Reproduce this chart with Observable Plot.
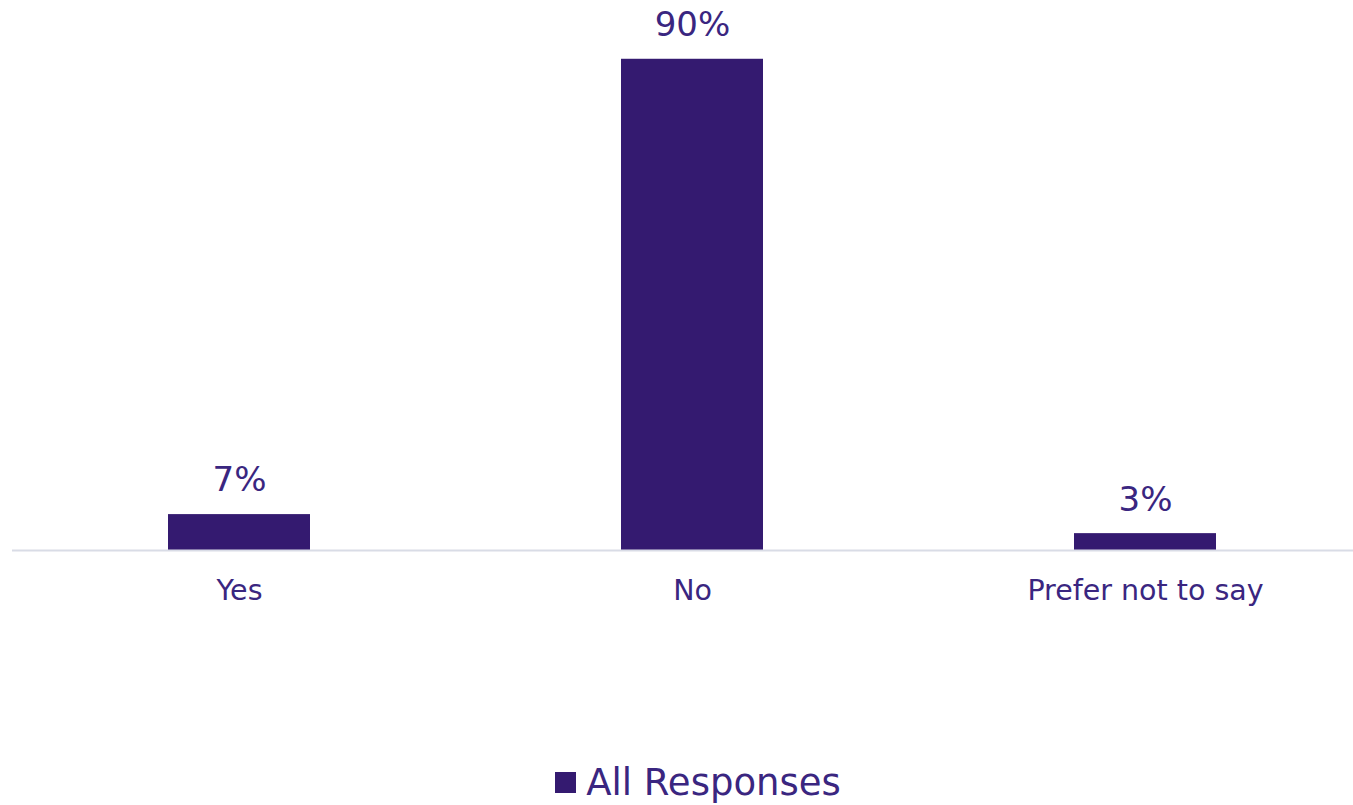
<!DOCTYPE html>
<html>
<head>
<meta charset="utf-8">
<script src="https://cdn.jsdelivr.net/npm/d3@7"></script>
<script src="https://cdn.jsdelivr.net/npm/@observablehq/plot@0.6"></script>
<style>
  html, body { margin: 0; padding: 0; background: #fff; }
  #chart svg { display: block; }
  .legend { display: flex; justify-content: center; align-items: center; height: 45px; padding-left: 43px; font-family: "DejaVu Sans", sans-serif; font-size: 37px; color: #3a2680; }
  .legend .sw { width: 21px; height: 21px; background: #341a70; margin-right: 10px; }
</style>
</head>
<body>
<div id="chart"></div>
<div class="legend"><span class="sw"></span><span>All Responses</span></div>
<script>
const categories = ["Yes", "No", "Prefer not to say"];
const values = [6.6, 90.3, 3.1];
const seriesName = "All Responses";

const data = categories.map((c, i) => ({category: c, value: values[i], series: seriesName}));

const barColor = "#341a70";
const textColor = "#3a2680";
const font = "DejaVu Sans, sans-serif";

const chart = Plot.plot({
  width: 1353,
  height: 760,
  marginLeft: 12,
  marginRight: 0,
  marginTop: 0,
  marginBottom: 210,
  style: {fontFamily: font, background: "#fff"},
  x: {domain: categories, range: [12, 1372], paddingInner: 0.687, paddingOuter: 0.3435, label: null},
  y: {domain: [0, 100], range: [550, 6], axis: null},
  marks: [
    Plot.barY(data, {x: "category", y: "value", fill: barColor}),
    Plot.ruleY([0], {stroke: "#d9dce6", strokeWidth: 2}),
    Plot.text(data, {x: "category", y: "value", text: d => Math.round(d.value) + "%", dy: -34, fill: textColor, fontSize: 34}),
    Plot.axisX({tickSize: 0, tickPadding: 29, fontSize: 28.5, color: textColor, label: null})
  ]
});
document.getElementById("chart").appendChild(chart);
</script>
</body>
</html>
